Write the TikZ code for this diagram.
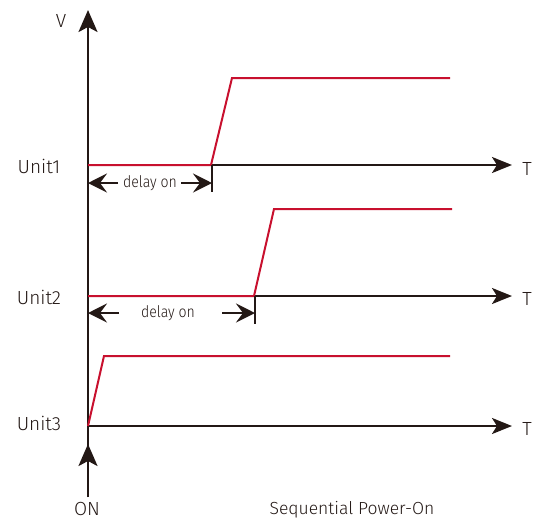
\documentclass[tikz,border=0pt]{standalone}
\usepackage{fontspec}
\setmainfont{Fira Sans Light}
\usetikzlibrary{arrows.meta}
\definecolor{axis}{RGB}{35,24,21}
\definecolor{sig}{RGB}{200,16,46}
\begin{document}
\begin{tikzpicture}[x=1pt,y=-1pt,
  ax/.style={draw=axis,line width=2.4pt},
  bigtip/.style={-{Stealth[length=22pt,width=19pt,inset=5pt]}},
  midtip/.style={-{Stealth[length=20pt,width=16pt,inset=5pt]}},
  sg/.style={draw=sig,line width=2pt},
  lab/.style={font=\fontsize{19}{21}\selectfont,text=axis,inner sep=0pt},
  dl/.style={font=\fontsize{16}{18}\selectfont,text=axis,inner sep=0pt,xscale=0.88},
  dimtip/.style={-{Stealth[length=19pt,width=19pt,inset=7pt]}},
  tick/.style={draw=axis,line width=1.8pt}]
\useasboundingbox (0,0) rectangle (533,520);
% coordinates
\coordinate (bot) at (88,497);
\coordinate (top) at (88,10);
\coordinate (on2) at (88,444);
\coordinate (o1) at (88,165);
\coordinate (e1) at (512,165);
\coordinate (o2) at (88,296);
\coordinate (e2) at (512,296);
\coordinate (o3) at (88,426);
\coordinate (e3) at (512,426);
% axes
\draw[ax,bigtip] (bot) -- (top);
\draw[ax,bigtip] (bot) -- (on2);
\draw[ax,midtip] (o1) -- (e1);
\draw[ax,midtip] (o2) -- (e2);
\draw[ax,midtip] (o3) -- (e3);
% labels
\node[lab] (V) at (61,21) {V};
\node[lab] (T1) at (527,169) {T};
\node[lab] (T2) at (527,299) {T};
\node[lab] (T3) at (527,429) {T};
\node[lab] (U1) at (39,166) {Unit1};
\node[lab] (U2) at (39,297) {Unit2};
\node[lab] (U3) at (39,423) {Unit3};
\node[lab] (ON) at (87,509) {ON};
\node[lab,font=\fontsize{17.5}{20}\selectfont] (SP) at (352,510) {Sequential Power-On};
% red signals
\draw[sg] (o1) -- (211,165) -- (232,78) -- (450,78);
\draw[sg] (o2) -- (254,296) -- (274,209) -- (452,209);
\draw[sg] (o3) -- (104,356) -- (450,356);
% delay 1
\coordinate (t1a) at (212,165);
\coordinate (t1b) at (212,192);
\draw[tick] (t1a) -- (t1b);
\node[dl] (d1) at (150,183) {delay on};
\coordinate (l1) at (88,183);
\coordinate (r1) at (212,183);
\coordinate (l1s) at (118,183);
\coordinate (r1s) at (181,183);
\draw[ax,line width=2.2pt,dimtip] (l1s) -- (l1);
\draw[ax,line width=2.2pt,dimtip] (r1s) -- (r1);
% delay 2
\coordinate (t2a) at (255,296);
\coordinate (t2b) at (255,324);
\draw[tick] (t2a) -- (t2b);
\node[dl] (d2) at (168,313) {delay on};
\coordinate (l2) at (88,313);
\coordinate (r2) at (255,313);
\coordinate (l2s) at (119,313);
\coordinate (r2s) at (222,313);
\draw[ax,line width=2.2pt,dimtip] (l2s) -- (l2);
\draw[ax,line width=2.2pt,dimtip] (r2s) -- (r2);
\end{tikzpicture}
\end{document}
